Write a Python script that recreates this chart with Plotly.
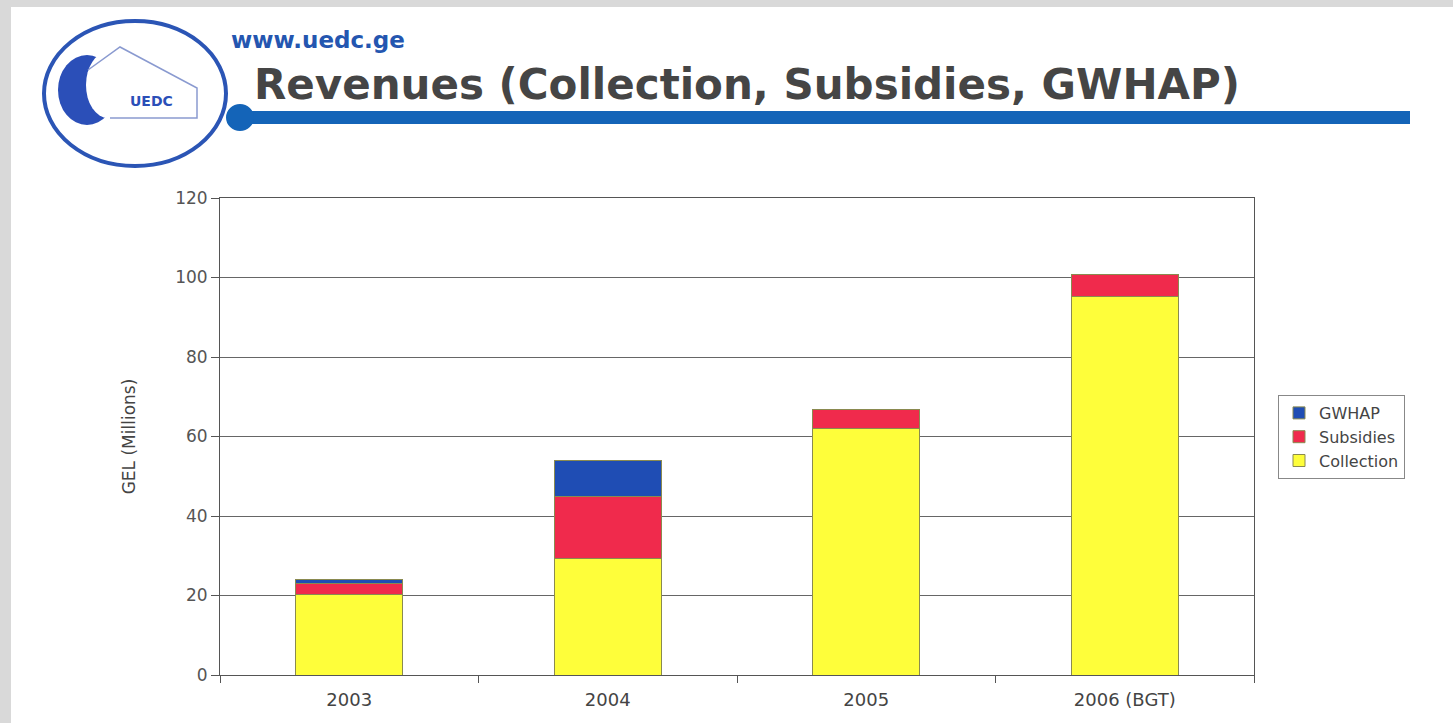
import plotly.graph_objects as go

categories = ["2003", "2004", "2005", "2006 (BGT)"]
collection = [20.3, 29.4, 61.9, 95.2]
subsidies = [2.6, 15.4, 4.9, 5.5]
gwhap = [1.1, 9.1, 0, 0]
y_ticks = [0, 20, 40, 60, 80, 100, 120]

W, H = 1453, 723
L, R, T, B = 220, 1254, 198, 675

def px(x):
    return (x - L) / (R - L)

def py(y):
    return (B - y) / (B - T)

FONT = "DejaVu Sans, Liberation Sans, Arial, sans-serif"

fig = go.Figure()
fig.add_trace(go.Bar(name="Collection", x=categories, y=collection,
                     marker=dict(color="#fefe3a", line=dict(color="#8a8a50", width=1))))
fig.add_trace(go.Bar(name="Subsidies", x=categories, y=subsidies,
                     marker=dict(color="#f02a4c", line=dict(color="#8a8a50", width=1))))
fig.add_trace(go.Bar(name="GWHAP", x=categories, y=gwhap,
                     marker=dict(color="#1f4db4", line=dict(color="#8a8a50", width=1))))

shapes = []
# grey scan border top and left
shapes.append(dict(type="rect", xref="paper", yref="paper", x0=px(0), x1=px(W), y0=py(0), y1=py(7),
                   fillcolor="#d9d9d9", line=dict(width=0), layer="below"))
shapes.append(dict(type="rect", xref="paper", yref="paper", x0=px(0), x1=px(11), y0=py(0), y1=py(H),
                   fillcolor="#d9d9d9", line=dict(width=0), layer="below"))
# header blue line
shapes.append(dict(type="rect", xref="paper", yref="paper", x0=px(240), x1=px(1410), y0=py(111), y1=py(124),
                   fillcolor="#1464b8", line=dict(width=0)))
shapes.append(dict(type="circle", xref="paper", yref="paper", x0=px(226), x1=px(254), y0=py(104), y1=py(131),
                   fillcolor="#1464b8", line=dict(width=0)))
# logo
shapes.append(dict(type="circle", xref="paper", yref="paper", x0=px(44), x1=px(226), y0=py(21), y1=py(166),
                   fillcolor="#ffffff", line=dict(color="#2b55b5", width=4)))
shapes.append(dict(type="circle", xref="paper", yref="paper", x0=px(58), x1=px(116), y0=py(55), y1=py(125),
                   fillcolor="#2b4fb8", line=dict(width=0)))
shapes.append(dict(type="circle", xref="paper", yref="paper", x0=px(86), x1=px(130), y0=py(52), y1=py(118),
                   fillcolor="#ffffff", line=dict(width=0)))
shapes.append(dict(type="path", xref="paper", yref="paper",
                   path="M {},{} L {},{} L {},{} L {},{} L {},{}".format(
                       px(88), py(70), px(120), py(47), px(197), py(88), px(197), py(118), px(110), py(118)),
                   line=dict(color="#8a9ad0", width=1.5)))

fig.update_layout(
    width=W, height=H,
    margin=dict(l=L, r=W - R, t=T, b=H - B),
    paper_bgcolor="white", plot_bgcolor="white",
    barmode="stack", bargap=0.586,
    font=dict(family=FONT, color="#444444", size=17),
    xaxis=dict(tickson="boundaries", ticks="outside", ticklen=7, tickcolor="#555555",
               showline=True, linecolor="#555555", linewidth=1, mirror=True,
               ticklabelstandoff=8,
               tickfont=dict(size=18, color="#444444", family=FONT)),
    yaxis=dict(range=[0, 120], tickvals=y_ticks, ticks="outside", ticklen=8, tickcolor="#555555",
               showline=True, linecolor="#555555", linewidth=1, mirror=True,
               gridcolor="#666666", gridwidth=1,
               tickfont=dict(size=17, color="#555555", family=FONT),
               title=dict(text="GEL (Millions)", font=dict(size=17, color="#444444", family=FONT), standoff=35)),
    legend=dict(x=px(1278), y=py(395), xanchor="left", yanchor="top", traceorder="reversed",
                bordercolor="#888888", borderwidth=1, bgcolor="white",
                font=dict(size=16, color="#444444", family=FONT), itemwidth=30, tracegroupgap=0),
    shapes=shapes,
    annotations=[
        dict(text="<b>www.uedc.ge</b>", xref="paper", yref="paper", x=px(229), y=py(40),
             xanchor="left", yanchor="middle", showarrow=False,
             font=dict(size=23, color="#2456b0", family=FONT)),
        dict(text="<b>Revenues (Collection, Subsidies, GWHAP)</b>", xref="paper", yref="paper",
             x=px(252), y=py(85), xanchor="left", yanchor="middle", showarrow=False,
             font=dict(size=42, color="#454545", family=FONT)),
        dict(text="<b>UEDC</b>", xref="paper", yref="paper", x=px(151), y=py(101),
             xanchor="center", yanchor="middle", showarrow=False,
             font=dict(size=14, color="#2b4fb8", family=FONT)),
    ],
)

fig.write_html("out.html")
